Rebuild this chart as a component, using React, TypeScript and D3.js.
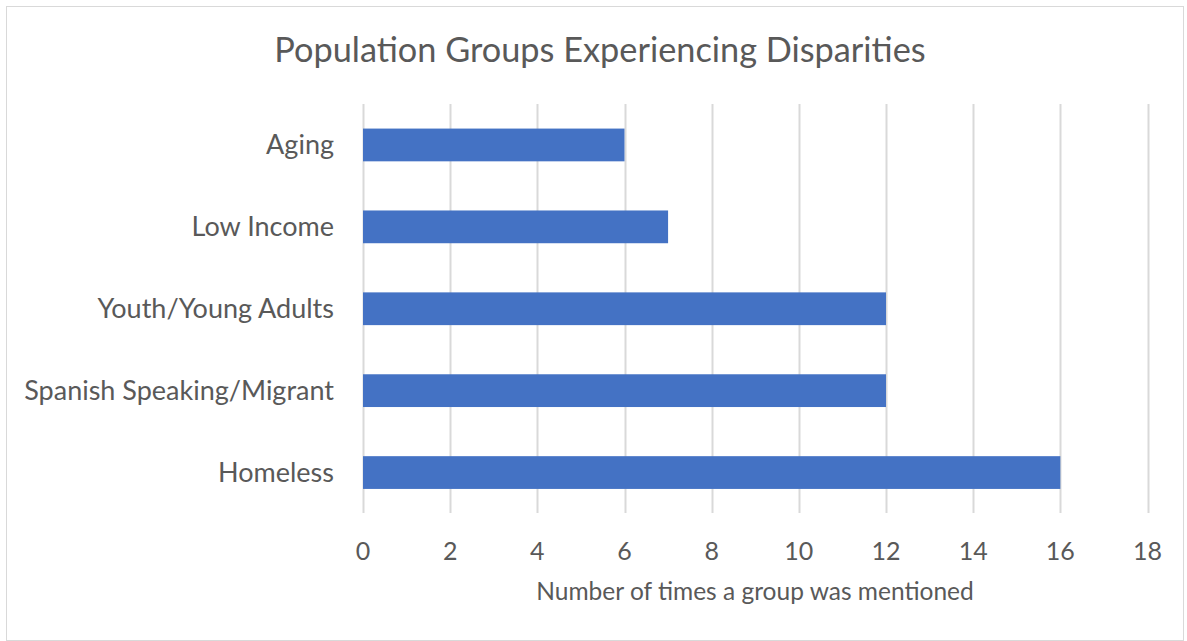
import { useEffect, useRef } from 'react';
import { select, scaleLinear, scaleBand, range } from 'd3';

const categories = [
  'Aging',
  'Low Income',
  'Youth/Young Adults',
  'Spanish Speaking/Migrant',
  'Homeless',
];
const mentions = [6, 7, 12, 12, 16];
const xTicks = range(0, 19, 2);

const width = 1187;
const height = 641;
const margin = { top: 104, right: 40, bottom: 128, left: 363 };
const font = 'Lato, "Noto Sans", sans-serif';

const App = () => {
  const svgRef = useRef<SVGSVGElement>(null);

  useEffect(() => {
    if (!svgRef.current) return;
    const svg = select(svgRef.current);
    svg.selectAll('*').remove();

    const x = scaleLinear()
      .domain([0, 18])
      .range([margin.left, 1147.5]);
    const y = scaleBand()
      .domain(categories)
      .range([margin.top, height - margin.bottom + 0.5])
      .paddingInner(0.6)
      .paddingOuter(0.3);

    svg
      .append('rect')
      .attr('x', 6.5)
      .attr('y', 6.5)
      .attr('width', width - 10)
      .attr('height', height - 7)
      .attr('fill', '#fff')
      .attr('stroke', '#d9d9d9');

    svg
      .append('text')
      .attr('x', 600)
      .attr('y', 62)
      .attr('text-anchor', 'middle')
      .style('font-family', font)
      .style('font-size', '34.3px')
      .attr('fill', '#595959')
      .text('Population Groups Experiencing Disparities');

    svg
      .append('g')
      .selectAll('line')
      .data(xTicks)
      .join('line')
      .attr('x1', (d) => Math.round(x(d)) + 0.5)
      .attr('x2', (d) => Math.round(x(d)) + 0.5)
      .attr('y1', margin.top)
      .attr('y2', 513)
      .attr('stroke', '#d9d9d9')
      .attr('stroke-width', 2);

    svg
      .append('g')
      .selectAll('rect')
      .data(mentions)
      .join('rect')
      .attr('x', x(0))
      .attr('y', (_, i) => y(categories[i])!)
      .attr('width', (d) => x(d) - x(0))
      .attr('height', y.bandwidth())
      .attr('fill', '#4472c4');

    svg
      .append('g')
      .selectAll('text')
      .data(categories)
      .join('text')
      .attr('x', 334)
      .attr('y', (d) => y(d)! + y.bandwidth() / 2)
      .attr('dy', '0.35em')
      .attr('text-anchor', 'end')
      .style('font-family', font)
      .style('font-size', '27px')
      .attr('fill', '#595959')
      .text((d) => d);

    svg
      .append('g')
      .selectAll('text')
      .data(xTicks)
      .join('text')
      .attr('x', (d) => x(d))
      .attr('y', 560)
      .attr('text-anchor', 'middle')
      .style('font-family', font)
      .style('font-size', '25px')
      .attr('fill', '#595959')
      .text((d) => d);

    svg
      .append('text')
      .attr('x', 755)
      .attr('y', 600)
      .attr('text-anchor', 'middle')
      .style('font-family', font)
      .style('font-size', '24.5px')
      .attr('fill', '#595959')
      .text('Number of times a group was mentioned');
  }, []);

  return (
    <div style={{ position: 'absolute', left: 0, top: 0 }}>
      <svg ref={svgRef} width={width} height={height} style={{ display: 'block' }} />
    </div>
  );
};

export default App;
